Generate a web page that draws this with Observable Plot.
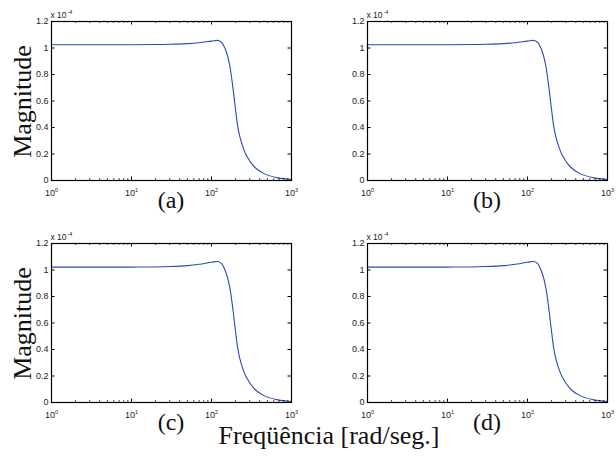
<!DOCTYPE html>
<html><head><meta charset="utf-8">
<script src="https://cdn.jsdelivr.net/npm/d3@7"></script>
<script src="https://cdn.jsdelivr.net/npm/@observablehq/plot@0.6"></script>
<style>
body{margin:0;background:#fff;}
#fig{position:relative;width:616px;height:459px;overflow:hidden;background:#fff;}
#fig > div.panel{position:absolute;}
#fig > div.panel svg{max-width:none !important;display:block;}
#fig > svg.overlay{position:absolute;left:0;top:0;pointer-events:none;}
</style></head><body><div id="fig"></div>
<script>
// ---- data (magnitude in units of 1e-4) ----
const freq      = [1,     3,     10,    20,    30,    50,    70,    100,   121,   135,   145,   154,   169,   186,   199,   215,   236,   273,   347,   458,   675,   1000];
const magTop    = [1.025, 1.025, 1.025, 1.026, 1.028, 1.033, 1.040, 1.052, 1.057, 1.040, 1.005, 0.968, 0.868, 0.692, 0.543, 0.392, 0.289, 0.189, 0.100, 0.050, 0.020, 0.008];
const magBottom = [1.022, 1.022, 1.022, 1.023, 1.026, 1.033, 1.043, 1.058, 1.064, 1.046, 1.010, 0.970, 0.870, 0.694, 0.545, 0.394, 0.290, 0.190, 0.100, 0.050, 0.020, 0.008];
const yTicks = [0, 0.2, 0.4, 0.6, 0.8, 1, 1.2];
const yTickLabels = ["0", "0.2", "0.4", "0.6", "0.8", "1", "1.2"];
const xTicks = [1, 10, 100, 1000];
const xTickBase = "10";
const xTickExponents = ["0", "1", "2", "3"];
const xMinor = [2,3,4,5,6,7,8,9,20,30,40,50,60,70,80,90,200,300,400,500,600,700,800,900];
const panelLabels = ["(a)", "(b)", "(c)", "(d)"];
const panelSeries = [magTop, magTop, magBottom, magBottom];
const yLabel = "Magnitude";
const xLabel = "Freqüência [rad/seg.]";
const scaleNoteBase = "x 10";
const scaleNoteExp = "-4";

// ---- layout ----
const W = 240, H = 159;
const frames = [{left: 51, top: 21}, {left: 367, top: 21}, {left: 51, top: 243}, {left: 367, top: 243}];
const mL = 40, mR = 14, mT = 22, mB = 22;
const fig = document.getElementById("fig");
const ink = "#222";

panelSeries.forEach((mags, p) => {
  const data = freq.map((f, i) => ({f, m: mags[i]}));
  const chart = Plot.plot({
    width: W + mL + mR, height: H + mT + mB,
    marginLeft: mL, marginRight: mR, marginTop: mT, marginBottom: mB,
    x: {type: "log", domain: [1, 1000], axis: null},
    y: {domain: [0, 1.2], axis: null},
    style: {fontFamily: "'Liberation Sans', Arial, sans-serif", fontSize: "9px", background: "transparent", overflow: "visible", maxWidth: "none"},
    marks: [
      Plot.line(data, {x: "f", y: "m", stroke: "#2a4bb0", strokeWidth: 1.1, curve: "catmull-rom"}),
      Plot.tickX(xTicks, {x: d => d, insetTop: H - 3.5, stroke: "#000"}),
      Plot.tickX(xTicks, {x: d => d, insetBottom: H - 3.5, stroke: "#000"}),
      Plot.tickX(xMinor, {x: d => d, insetTop: H - 2, stroke: "#000", strokeOpacity: 0.7}),
      Plot.tickX(xMinor, {x: d => d, insetBottom: H - 2, stroke: "#000", strokeOpacity: 0.7}),
      Plot.tickY(yTicks, {y: d => d, insetRight: W - 3.5, stroke: "#000"}),
      Plot.tickY(yTicks, {y: d => d, insetLeft: W - 3.5, stroke: "#000"}),
      Plot.frame({stroke: "#000", strokeWidth: 1.2}),
      Plot.text(yTicks, {y: d => d, frameAnchor: "left", text: (d, i) => yTickLabels[i], textAnchor: "end", dx: -3, fill: ink}),
      Plot.text(xTicks, {x: d => d, frameAnchor: "bottom", text: () => xTickBase, lineAnchor: "top", dx: -1.5, dy: 9.6, fill: ink}),
      Plot.text(xTicks, {x: d => d, frameAnchor: "bottom", text: (d, i) => xTickExponents[i], textAnchor: "start", lineAnchor: "top", dx: 3.5, dy: 8, fontSize: 5.5, fill: ink}),
      Plot.text([0], {frameAnchor: "top-left", text: () => scaleNoteBase, textAnchor: "start", lineAnchor: "bottom", dx: -1, dy: -4, fontSize: 8.5, fill: ink}),
      Plot.text([0], {frameAnchor: "top-left", text: () => scaleNoteExp, textAnchor: "start", lineAnchor: "bottom", dx: 16, dy: -8, fontSize: 5.5, fill: ink})
    ]
  });
  const div = document.createElement("div");
  div.className = "panel";
  div.style.left = (frames[p].left - mL) + "px";
  div.style.top = (frames[p].top - mT) + "px";
  div.style.width = (W + mL + mR) + "px";
  div.style.height = (H + mT + mB) + "px";
  div.appendChild(chart);
  fig.appendChild(div);
});

// ---- big serif labels ----
const ov = d3.select(fig).append("svg").attr("class", "overlay").attr("width", 616).attr("height", 459)
  .style("font-family", "'Liberation Serif', 'Times New Roman', serif").style("fill", "#111");
frames.forEach((fr, p) => {
  ov.append("text").attr("x", fr.left + W / 2).attr("y", fr.top + H + 28)
    .attr("text-anchor", "middle").attr("font-size", 24).text(panelLabels[p]);
});
[frames[0], frames[2]].forEach(fr => {
  ov.append("text").attr("transform", `translate(31,${fr.top + H / 2 + 1}) rotate(-90)`)
    .attr("text-anchor", "middle").attr("font-size", 26).text(yLabel);
});
ov.append("text").attr("x", (frames[0].left + frames[1].left + W) / 2).attr("y", 444)
  .attr("text-anchor", "middle").attr("font-size", 26).text(xLabel);
</script></body></html>
